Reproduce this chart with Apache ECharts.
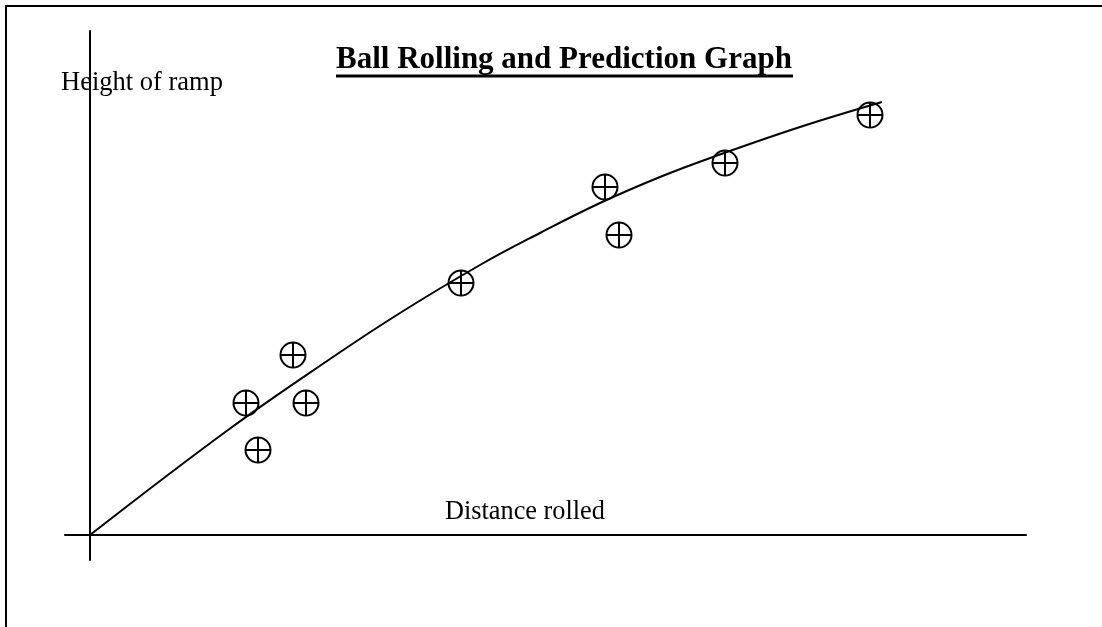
<!DOCTYPE html>
<html>
<head>
<meta charset="utf-8">
<script src="https://cdn.jsdelivr.net/npm/echarts@6/dist/echarts.min.js"></script>
<style>
  html, body { margin: 0; padding: 0; background: #fff; }
  #chart { width: 1102px; height: 627px; }
</style>
</head>
<body>
<div id="chart"></div>
<script>
// measured points: distance rolled vs height of ramp
const pointX = [15.6, 16.8, 20.3, 21.6, 37.1, 51.5, 52.9, 63.5, 78.0];
const pointY = [13.2, 8.5, 18.0, 13.2, 25.2, 34.8, 30.0, 37.2, 42.0];

// prediction curve
const curveX = [0, 13.8, 24, 31, 39, 45, 51, 57, 62.3, 71, 79.2];
const curveY = [0, 10.5, 17.6, 22.2, 27, 30.2, 33.2, 35.8, 37.8, 40.8, 43.3];

const titleText = "Ball Rolling and Prediction Graph";
const xName = "Distance rolled";
const yName = "Height of ramp";

const serif = "'Liberation Serif', 'Times New Roman', serif";

let myChart = echarts.init(document.getElementById("chart"));

// circle with a cross inside
const crossCircle = "path://M0,-10 A10,10 0 1,1 0,10 A10,10 0 1,1 0,-10 Z M-10,0 L10,0 M0,-10 L0,10";

let option = {
  animation: false,
  backgroundColor: "#fff",
  title: {
    text: titleText,
    left: 336,
    top: 44,
    padding: 0,
    textStyle: {
      fontFamily: serif,
      fontWeight: "bold",
      fontSize: 31,
      color: "#000",
    },
  },
  graphic: [
    {
      type: "rect",
      shape: { x: 6, y: 6, width: 1200, height: 700 },
      style: { fill: "none", stroke: "#000", lineWidth: 2 },
      silent: true,
    },
    {
      type: "line",
      shape: { x1: 336, y1: 76, x2: 793, y2: 76 },
      style: { stroke: "#000", lineWidth: 3 },
    },
    {
      type: "text",
      left: 61,
      top: 70,
      style: { text: yName, font: "26.5px " + serif, fill: "#000" },
    },
    {
      type: "text",
      left: 445,
      top: 499,
      style: { text: xName, font: "26.3px " + serif, fill: "#000" },
    },
  ],
  grid: {
    left: 65,
    right: 76,
    top: 31,
    bottom: 67,
  },
  xAxis: {
    type: "value",
    min: -2.5,
    max: 93.6,
    axisLine: { onZero: true, lineStyle: { color: "#000", width: 2 } },
    axisTick: { show: false },
    axisLabel: { show: false },
    splitLine: { show: false },
  },
  yAxis: {
    type: "value",
    min: -2.5,
    max: 50.4,
    axisLine: { show: true, onZero: true, lineStyle: { color: "#000", width: 2 } },
    axisTick: { show: false },
    axisLabel: { show: false },
    splitLine: { show: false },
  },
  series: [
    {
      name: "prediction",
      type: "line",
      smooth: 0.4,
      showSymbol: false,
      data: curveX.map((x, i) => [x, curveY[i]]),
      lineStyle: { color: "#000", width: 2 },
      z: 2,
    },
    {
      name: "measured",
      type: "scatter",
      symbol: crossCircle,
      symbolSize: 25,
      data: pointX.map((x, i) => [x, pointY[i]]),
      itemStyle: { color: "none", borderColor: "#000", borderWidth: 2, opacity: 1 },
      z: 3,
    },
  ],
};

option && myChart.setOption(option);
</script>
</body>
</html>
